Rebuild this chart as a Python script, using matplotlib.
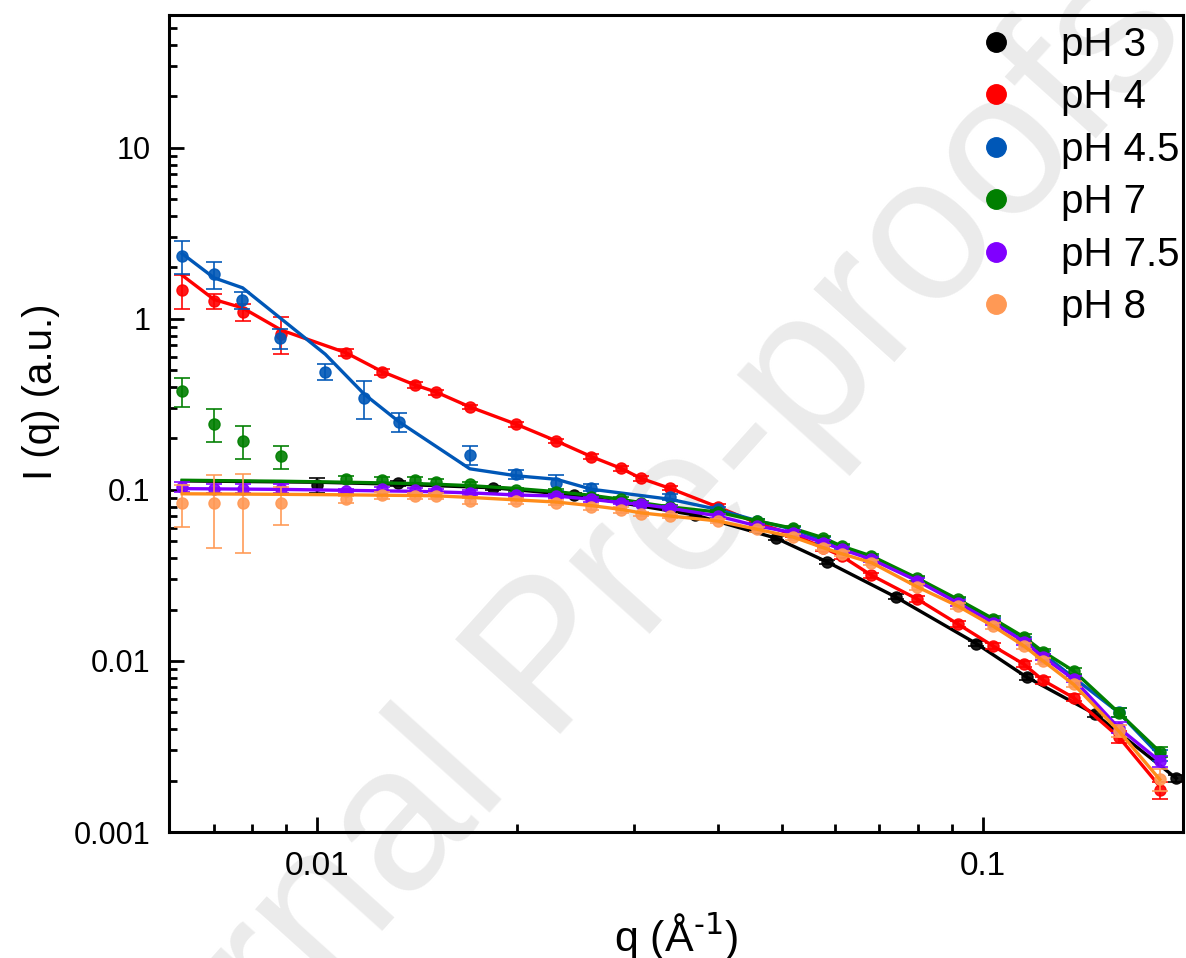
import numpy as np
import matplotlib.pyplot as plt
from matplotlib.lines import Line2D
from matplotlib.ticker import LogLocator, FixedLocator, FixedFormatter, NullFormatter

plt.rcParams['font.family'] = ['Liberation Sans', 'DejaVu Sans']

# ---- data (q in 1/A, I in a.u.) ----
labels = ["pH 3", "pH 4", "pH 4.5", "pH 7", "pH 7.5", "pH 8"]
marker_colors = ["#000000", "#ff0000", "#0057b7", "#007f00", "#8000ff", "#ff9955"]
line_colors = ["#000000", "#ff0000", "#0057b7", "#007f00", "#8000ff", "#ff8c1a"]

q_low = [0.00628, 0.00701, 0.00774, 0.00885, 0.01106, 0.01254, 0.01405, 0.01513,
         0.01698, 0.01995, 0.0229, 0.02586, 0.02863, 0.03068, 0.0339, 0.04,
         0.0459, 0.0519, 0.0576, 0.0614, 0.0681, 0.0798, 0.0917, 0.1037,
         0.1154, 0.1233, 0.137, 0.1601, 0.1845]

# pH 3
q_ph3 = [0.01, 0.01326, 0.0184, 0.02436, 0.037, 0.049, 0.0583, 0.074, 0.0979,
         0.1164, 0.1477, 0.1954]
i_ph3 = [0.1065, 0.1095, 0.1031, 0.0935, 0.0714, 0.0522, 0.0381, 0.0237, 0.01263,
         0.00806, 0.00488, 0.00206]
e_ph3 = [0.011, 0.004, 0.003, 0.003, 0.002, 0.0015, 0.001, 0.0008, 0.0004,
         0.0003, 0.0002, 0.0001]
qf_ph3 = [0.00628, 0.01, 0.01326, 0.0184, 0.02436, 0.037, 0.049, 0.0583, 0.074,
          0.0979, 0.1164, 0.1477, 0.1954]
if_ph3 = [0.113, 0.111, 0.108, 0.103, 0.0935, 0.0714, 0.0522, 0.0381, 0.0237,
          0.01263, 0.00806, 0.00488, 0.00206]

# pH 4
i_ph4 = [1.47, 1.27, 1.10, 0.82, 0.635, 0.492, 0.411, 0.373, 0.306, 0.242, 0.1934,
         0.1566, 0.1339, 0.117, 0.1023, 0.0796, 0.064, 0.055, 0.046, 0.0411,
         0.0317, 0.023, 0.0165, 0.01224, 0.00957, 0.0077, 0.0061, 0.0036, 0.00175]
e_ph4 = [0.33, 0.12, 0.13, 0.2, 0.03, 0.02, 0.015, 0.012, 0.01, 0.008, 0.006,
         0.005, 0.004, 0.004, 0.003, 0.003, 0.002, 0.002, 0.002, 0.0015,
         0.0012, 0.0009, 0.0007, 0.0005, 0.0004, 0.0004, 0.0003, 0.0003, 0.0002]
if_ph4 = [1.80, 1.30, 1.16, 0.86, 0.635, 0.492, 0.411, 0.373, 0.306, 0.242, 0.1934,
          0.1566, 0.1339, 0.117, 0.1023, 0.0796, 0.064, 0.055, 0.046, 0.0411,
          0.0317, 0.023, 0.0165, 0.01224, 0.00957, 0.0077, 0.0061, 0.0036, 0.00185]

# pH 4.5
q_ph45 = [0.00627, 0.00701, 0.00773, 0.00882, 0.0103, 0.01178, 0.0133, 0.01698,
          0.01995, 0.0229, 0.02586, 0.0339, 0.04, 0.0459, 0.0519, 0.0576, 0.0614,
          0.0681, 0.0798, 0.0917, 0.1037, 0.1154, 0.1233, 0.137, 0.1601, 0.1845]
i_ph45 = [2.34, 1.83, 1.29, 0.77, 0.492, 0.347, 0.250, 0.1596, 0.1235, 0.110,
          0.103, 0.091, 0.077, 0.066, 0.059, 0.051, 0.046, 0.040, 0.0298, 0.0225,
          0.0172, 0.0134, 0.011, 0.0080, 0.0050, 0.0028]
e_ph45 = [0.5, 0.33, 0.15, 0.1, 0.05, 0.087, 0.033, 0.02, 0.008, 0.012, 0.005,
          0.004, 0.003, 0.002, 0.002, 0.002, 0.0015, 0.0013, 0.001, 0.0008,
          0.0006, 0.0005, 0.0004, 0.0003, 0.0003, 0.0002]
qf_ph45 = [0.00628, 0.00701, 0.00774, 0.0103, 0.01178, 0.0133, 0.01698, 0.01995,
           0.0229, 0.02586, 0.0339, 0.04, 0.0459, 0.0519, 0.0576, 0.0614, 0.0681,
           0.0798, 0.0917, 0.1037, 0.1154, 0.1233, 0.137, 0.1601, 0.1845]
if_ph45 = [2.41, 1.74, 1.52, 0.622, 0.364, 0.250, 0.133, 0.121, 0.1155, 0.101,
           0.0883, 0.077, 0.066, 0.059, 0.051, 0.046, 0.040, 0.0298, 0.0225,
           0.0172, 0.0134, 0.011, 0.0080, 0.0050, 0.0028]

# pH 7
i_ph7 = [0.379, 0.244, 0.1935, 0.1574, 0.1165, 0.1144, 0.1144, 0.1118, 0.108,
         0.100, 0.0977, 0.091, 0.0882, 0.0843, 0.0796, 0.0743, 0.0659, 0.0597,
         0.0526, 0.047, 0.0411, 0.0305, 0.0230, 0.01767, 0.0138, 0.01133,
         0.00875, 0.00499, 0.00295]
e_ph7 = [0.075, 0.054, 0.042, 0.024, 0.005, 0.004, 0.004, 0.004, 0.003, 0.003,
         0.003, 0.003, 0.003, 0.002, 0.002, 0.002, 0.002, 0.002, 0.0015, 0.0015,
         0.0012, 0.001, 0.0008, 0.0006, 0.0005, 0.0004, 0.0003, 0.0003, 0.0002]
if_ph7 = [0.114, 0.1135, 0.113, 0.1125, 0.111, 0.110, 0.109, 0.108, 0.106, 0.102,
          0.0977, 0.093, 0.0882, 0.0843, 0.0796, 0.0743, 0.0659, 0.0597, 0.0526,
          0.047, 0.0411, 0.0305, 0.0230, 0.01767, 0.0138, 0.01133, 0.00875,
          0.00499, 0.00295]

# pH 7.5
i_ph75 = [0.104, 0.1018, 0.1018, 0.1018, 0.0987, 0.101, 0.0996, 0.0987, 0.0965,
          0.0935, 0.0922, 0.0882, 0.0843, 0.0825, 0.0783, 0.0705, 0.0616, 0.0563,
          0.0492, 0.045, 0.0393, 0.0294, 0.0219, 0.01675, 0.01297, 0.01055,
          0.00782, 0.00407, 0.0026]
e_ph75 = [0.007, 0.006, 0.006, 0.006, 0.003, 0.003, 0.003, 0.003, 0.003, 0.003,
          0.003, 0.003, 0.002, 0.002, 0.002, 0.002, 0.002, 0.002, 0.0015, 0.0015,
          0.0012, 0.001, 0.0008, 0.0006, 0.0005, 0.0004, 0.0003, 0.0003, 0.0002]
if_ph75 = [0.1018, 0.1015, 0.1012, 0.1008, 0.0995, 0.0988, 0.0982, 0.0975, 0.0962,
           0.0935, 0.0922, 0.0882, 0.0843, 0.0825, 0.0783, 0.0705, 0.0616, 0.0563,
           0.0492, 0.045, 0.0393, 0.0294, 0.0219, 0.01675, 0.01297, 0.01055,
           0.00782, 0.00407, 0.0026]

# pH 8
i_ph8 = [0.0836, 0.0836, 0.0836, 0.0836, 0.0882, 0.0931, 0.0922, 0.0922, 0.0862,
         0.0862, 0.0843, 0.0796, 0.0761, 0.0721, 0.0705, 0.0659, 0.0589, 0.0531,
         0.046, 0.0424, 0.0376, 0.0271, 0.021, 0.016, 0.01224, 0.010, 0.0073,
         0.0039, 0.00203]
e_ph8 = [0.023, 0.038, 0.041, 0.021, 0.004, 0.004, 0.004, 0.004, 0.003, 0.003,
         0.003, 0.003, 0.003, 0.002, 0.002, 0.002, 0.002, 0.002, 0.0015, 0.0015,
         0.0012, 0.001, 0.0008, 0.0006, 0.0005, 0.0004, 0.0003, 0.0003, 0.0003]
if_ph8 = [0.095, 0.0948, 0.0946, 0.0943, 0.0937, 0.0932, 0.0928, 0.0924, 0.0905,
          0.0875, 0.0850, 0.0810, 0.0770, 0.0735, 0.0705, 0.0659, 0.0589, 0.0531,
          0.046, 0.0424, 0.0376, 0.0271, 0.021, 0.016, 0.01224, 0.010, 0.0073,
          0.0039, 0.00203]

points = [(q_ph3, i_ph3, e_ph3), (q_low, i_ph4, e_ph4), (q_ph45, i_ph45, e_ph45),
          (q_low, i_ph7, e_ph7), (q_low, i_ph75, e_ph75), (q_low, i_ph8, e_ph8)]
fits = [(qf_ph3, if_ph3), (q_low, if_ph4), (qf_ph45, if_ph45),
        (q_low, if_ph7), (q_low, if_ph75), (q_low, if_ph8)]

fig = plt.figure(figsize=(11.86, 9.58), dpi=100)
ax = fig.add_axes([0.1425, 0.1315, 0.855, 0.853])

# watermark, behind the axes
fig.text(0.494, 0.347, "Journal Pre-proofs", fontsize=148, color="#ebebeb",
         rotation=48, ha="center", va="center", zorder=-1)

for k in range(len(labels)):
    q, I, e = points[k]
    ax.errorbar(q, I, yerr=e, fmt="o", ms=8, color=marker_colors[k],
                ecolor=marker_colors[k], elinewidth=1.3, capsize=6, capthick=1.3,
                alpha=0.9, zorder=2 + k)
    qf, If = fits[k]
    ax.plot(qf, If, "-", lw=2.4, color=line_colors[k], zorder=2.5 + k)

ax.set_xscale("log")
ax.set_yscale("log")
ax.set_xlim(0.006, 0.2)
ax.set_ylim(0.001, 60)
ax.patch.set_alpha(0)

ax.yaxis.set_major_locator(FixedLocator([0.001, 0.01, 0.1, 1, 10]))
ax.yaxis.set_major_formatter(FixedFormatter(["0.001", "0.01", "0.1", "1", "10"]))
ax.yaxis.set_minor_locator(LogLocator(base=10, subs=np.arange(2, 10)))
ax.yaxis.set_minor_formatter(NullFormatter())
ax.xaxis.set_major_locator(FixedLocator([0.01, 0.1]))
ax.xaxis.set_major_formatter(FixedFormatter(["0.01", "0.1"]))
ax.xaxis.set_minor_locator(LogLocator(base=10, subs=np.arange(2, 10)))
ax.xaxis.set_minor_formatter(NullFormatter())

ax.tick_params(which="major", direction="in", length=11, width=2)
ax.tick_params(which="minor", direction="in", length=6, width=2)
ax.tick_params(axis="y", which="major", labelsize=22, pad=13.5)
ax.tick_params(axis="x", which="major", labelsize=24, pad=14)
for s in ax.spines.values():
    s.set_linewidth(2.2)

ax.set_xlabel("q (Å$^{\\text{-1}}$)", fontsize=31)
ax.set_ylabel("I (q) (a.u.)", fontsize=29)
ax.xaxis.set_label_coords(0.5, -0.098)
ax.yaxis.set_label_coords(-0.1075, 0.5386)

handles = [Line2D([], [], marker="o", ls="", ms=14, color=c) for c in marker_colors]
ax.legend(handles, labels, loc="upper right", bbox_to_anchor=(1.0, 0.9914),
          frameon=False, fontsize=29, handlelength=1.2, handletextpad=1.0,
          labelspacing=0.36, borderaxespad=0.0, borderpad=0.1)

fig.savefig("out.png", dpi=100)
